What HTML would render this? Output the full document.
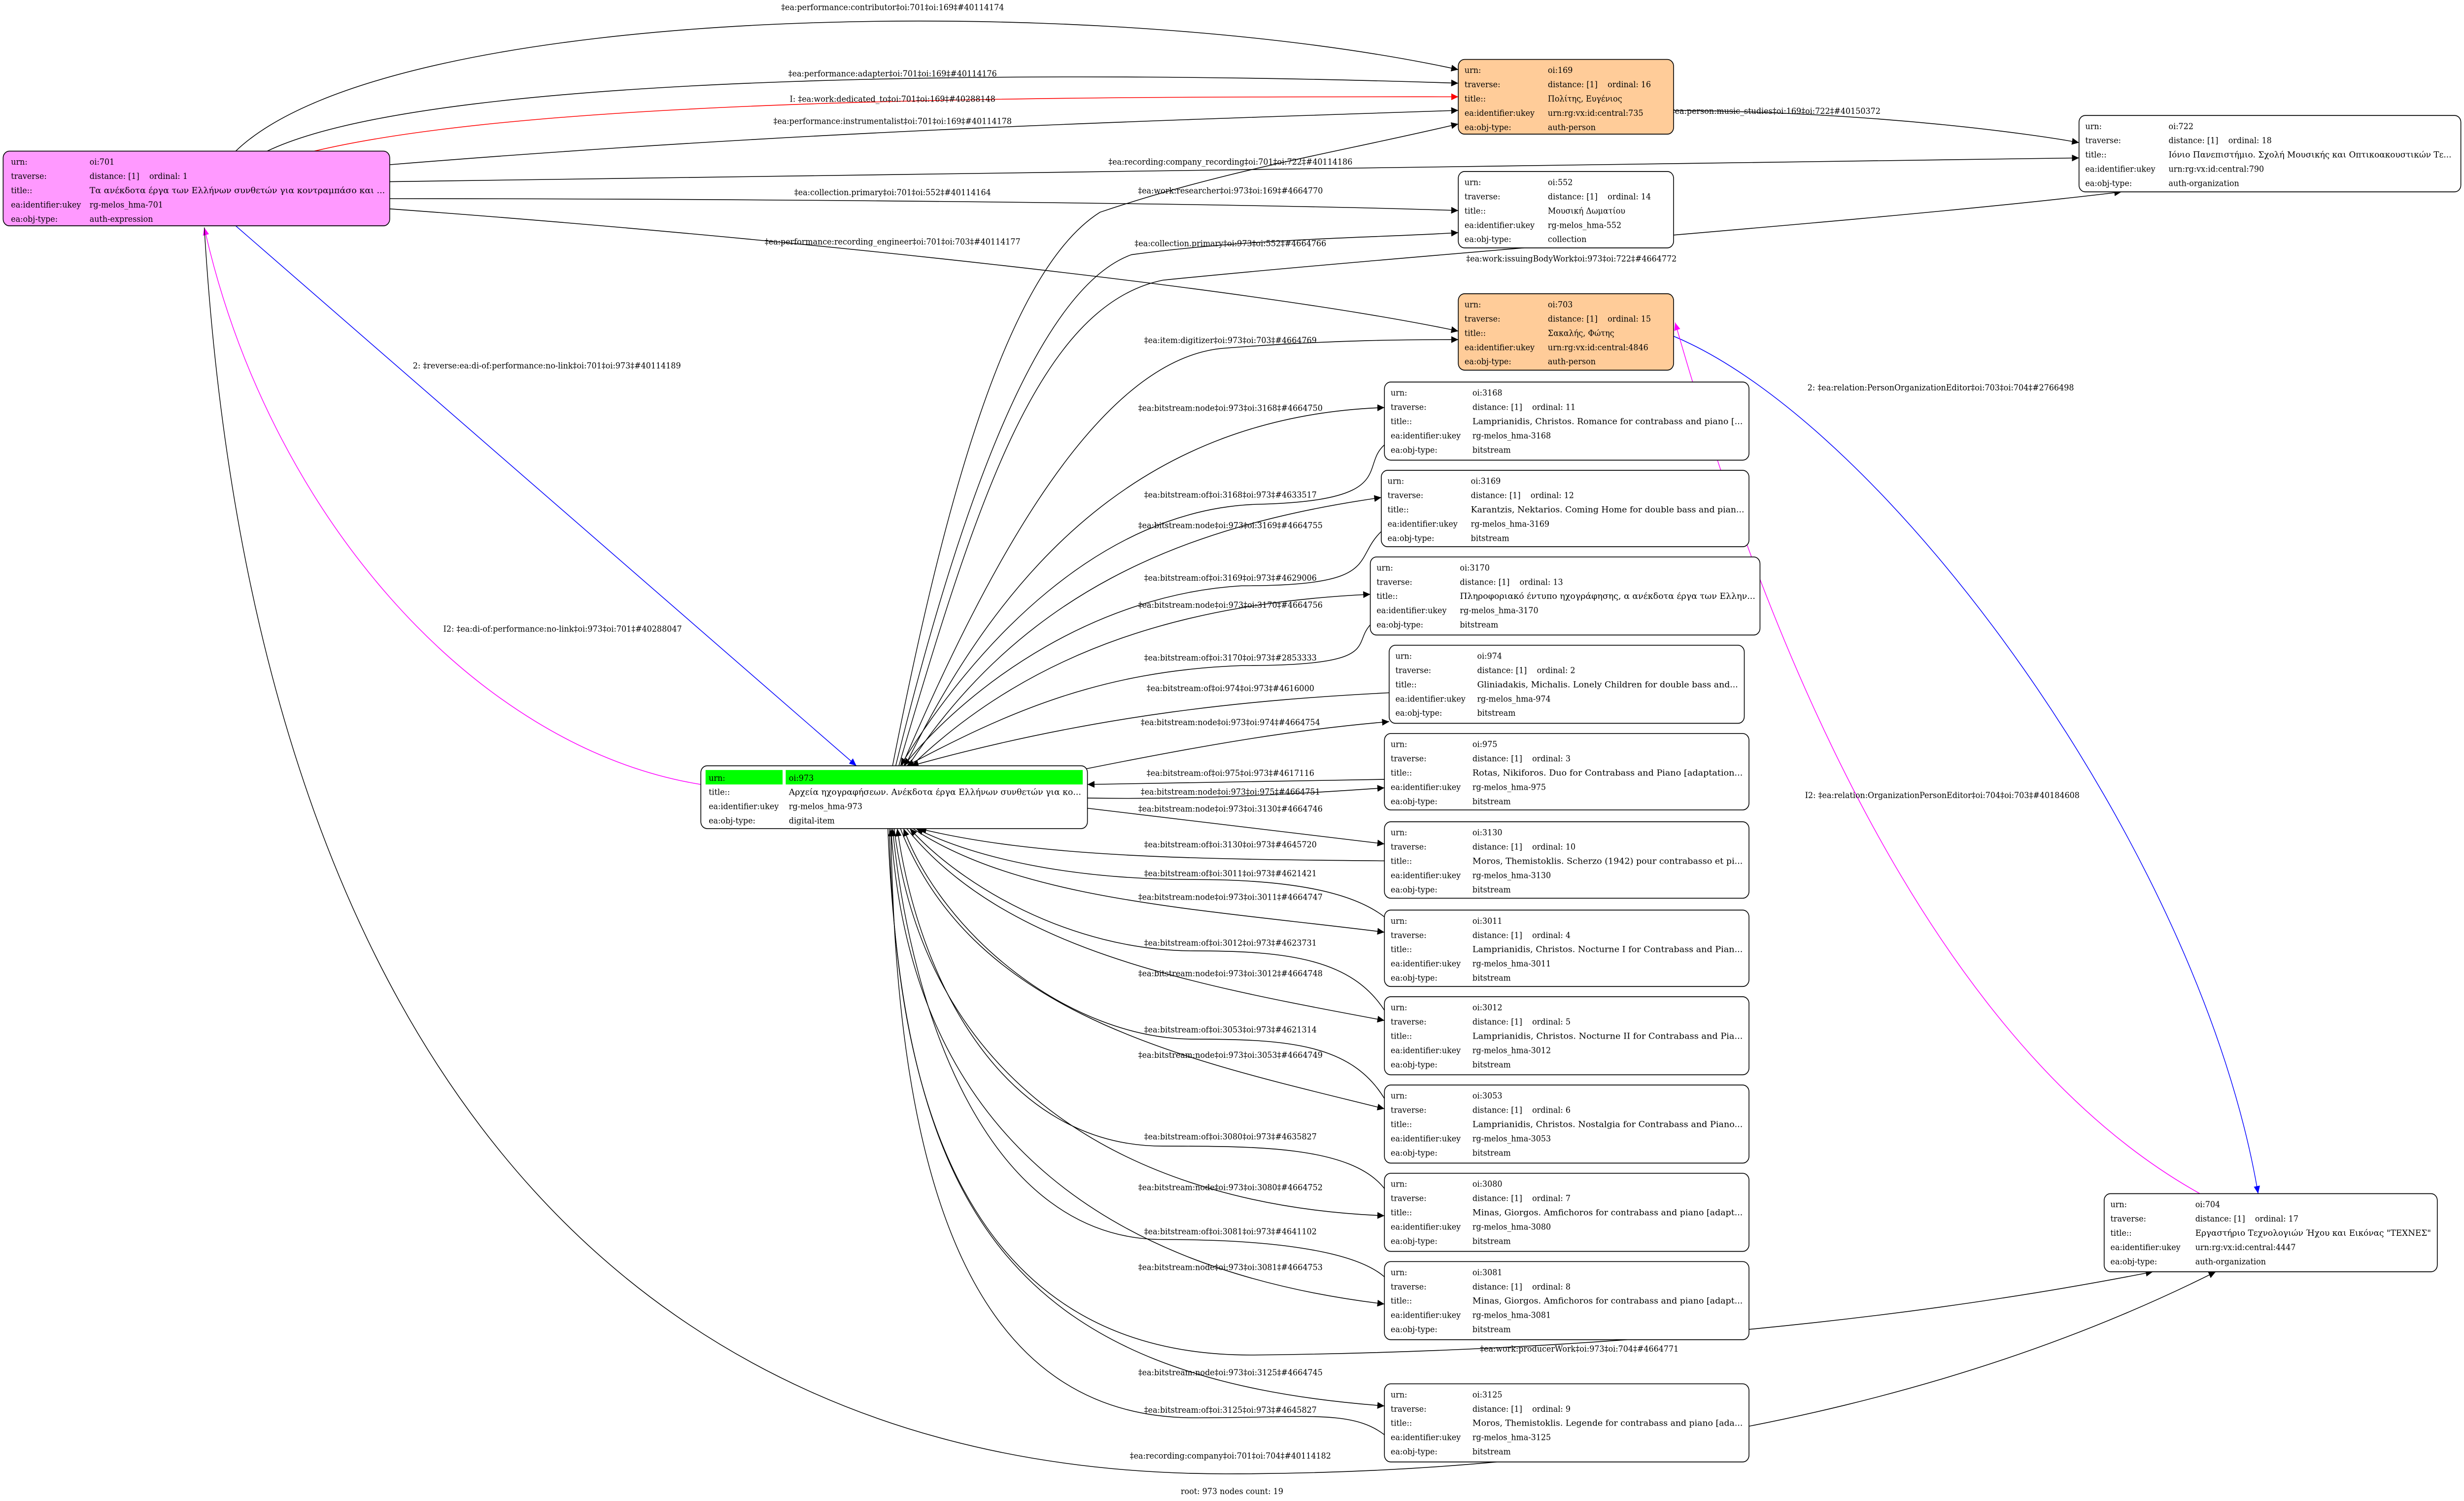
<!DOCTYPE html>
<html><head><meta charset="utf-8"><style>
html,body{margin:0;padding:0;background:#fff;overflow:hidden;width:100%;height:100%;}
svg{display:block;width:100vw;height:100vh;}
text{font-family:"DejaVu Serif","Liberation Serif","Noto Serif CJK SC",serif;font-size:5px;fill:#000;}
.e{fill:none;stroke:#000;stroke-width:0.45;}
</style></head><body>
<svg viewBox="0 0 1568 884" preserveAspectRatio="none" xmlns="http://www.w3.org/2000/svg">
<defs>
<marker id="ak" markerUnits="userSpaceOnUse" markerWidth="5" markerHeight="4" refX="4.5" refY="2" orient="auto"><path d="M0,0 L4.5,2 L0,4z" fill="#000"/></marker>
<marker id="ar" markerUnits="userSpaceOnUse" markerWidth="5" markerHeight="4" refX="4.5" refY="2" orient="auto"><path d="M0,0 L4.5,2 L0,4z" fill="#f00"/></marker>
<marker id="ab" markerUnits="userSpaceOnUse" markerWidth="5" markerHeight="4" refX="4.5" refY="2" orient="auto"><path d="M0,0 L4.5,2 L0,4z" fill="#00f"/></marker>
<marker id="am" markerUnits="userSpaceOnUse" markerWidth="5" markerHeight="4" refX="4.5" refY="2" orient="auto"><path d="M0,0 L4.5,2 L0,4z" fill="#f0f"/></marker>
</defs>

<path class="e" marker-end="url(#ak)" d="M150,89 C250,0 700,-5 928,41"/>
<path class="e" marker-end="url(#ak)" d="M170,89 C280,40 700,42 928,49"/>
<path class="e" style="stroke:#f00" marker-end="url(#ar)" d="M200,89 C350,56 700,57 928,57"/>
<path class="e" marker-end="url(#ak)" d="M248,97 C500,78 700,72 928,65"/>
<path class="e" marker-end="url(#ak)" d="M248,107 L1323,93"/>
<path class="e" marker-end="url(#ak)" d="M248,117 C500,117 800,120 928,124"/>
<path class="e" marker-end="url(#ak)" d="M248,123 C500,140 800,170 928,195"/>
<path class="e" style="stroke:#00f" marker-end="url(#ab)" d="M150,133 L545,451"/>
<path class="e" style="stroke:#f0f" marker-end="url(#am)" d="M446,462 C300,440 170,300 130,134"/>
<path class="e" marker-end="url(#ak)" d="M130,134 C160,600 380,868 780,868 C1100,868 1300,800 1410,749"/>
<path class="e" marker-end="url(#ak)" d="M1065,65 C1200,66 1300,80 1323,84"/>
<path class="e" style="stroke:#00f" marker-end="url(#ab)" d="M1065,198 C1200,250 1400,500 1437,703"/>
<path class="e" style="stroke:#f0f" marker-end="url(#am)" d="M1400,703 C1200,600 1100,300 1066,190"/>

<path class="e" marker-end="url(#ak)" d="M568,451 C600,300 640,160 700,125 C780,100 850,90 928,73"/>
<path class="e" marker-end="url(#ak)" d="M570,451 C610,300 660,170 720,150 C800,140 880,140 928,137"/>
<path class="e" marker-end="url(#ak)" d="M572,451 C620,300 660,180 740,165 C900,150 1200,130 1350,113"/>
<path class="e" marker-end="url(#ak)" d="M574,451 C630,330 700,210 780,205 C850,200 900,200 928,200"/>
<path class="e" marker-end="url(#ak)" d="M576,451 C640,330 730,245 881,240"/>
<path class="e" marker-end="url(#ak)" d="M881,262 C865,275 890,295 800,297 C700,300 620,380 573,451"/>
<path class="e" marker-end="url(#ak)" d="M578,451 C650,350 750,310 879,293"/>
<path class="e" marker-end="url(#ak)" d="M879,313 C860,330 880,345 790,345 C700,350 620,400 575,451"/>
<path class="e" marker-end="url(#ak)" d="M580,451 C660,380 760,355 872,350"/>
<path class="e" marker-end="url(#ak)" d="M872,368 C860,380 880,392 790,392 C700,395 640,420 577,451"/>
<path class="e" marker-end="url(#ak)" d="M884,408 C800,412 700,420 580,451"/>
<path class="e" marker-end="url(#ak)" d="M690,453 C760,440 820,430 884,425"/>
<path class="e" marker-end="url(#ak)" d="M881,459 L692,462"/>
<path class="e" marker-end="url(#ak)" d="M692,470 C760,471 820,468 881,464"/>
<path class="e" marker-end="url(#ak)" d="M692,476 L881,497"/>
<path class="e" marker-end="url(#ak)" d="M881,507 C760,506 660,505 585,488"/>
<path class="e" marker-end="url(#ak)" d="M881,540 C860,525 820,518 760,518 C680,518 620,505 583,488"/>
<path class="e" marker-end="url(#ak)" d="M581,488 C650,530 760,535 881,549"/>
<path class="e" marker-end="url(#ak)" d="M881,595 C860,565 820,560 760,560 C680,560 610,520 579,488"/>
<path class="e" marker-end="url(#ak)" d="M577,488 C640,560 760,580 881,601"/>
<path class="e" marker-end="url(#ak)" d="M881,647 C860,615 820,612 760,612 C680,612 600,550 575,488"/>
<path class="e" marker-end="url(#ak)" d="M573,488 C620,600 760,625 881,653"/>
<path class="e" marker-end="url(#ak)" d="M881,700 C860,675 800,675 740,675 C640,675 585,580 571,488"/>
<path class="e" marker-end="url(#ak)" d="M569,488 C590,640 720,710 881,716"/>
<path class="e" marker-end="url(#ak)" d="M881,752 C860,735 800,730 740,730 C630,730 580,600 568,488"/>
<path class="e" marker-end="url(#ak)" d="M567,488 C580,680 720,750 881,768"/>
<path class="e" marker-end="url(#ak)" d="M566,488 C570,700 650,800 800,798 C1000,796 1200,780 1370,749"/>
<path class="e" marker-end="url(#ak)" d="M565,488 C575,720 650,812 881,828"/>
<path class="e" marker-end="url(#ak)" d="M881,845 C860,830 830,835 760,835 C620,835 570,700 567,488"/>

<g text-anchor="middle">
<text x="568" y="6">‡ea:performance:contributor‡oi:701‡oi:169‡#40114174</text>
<text x="568" y="45">‡ea:performance:adapter‡oi:701‡oi:169‡#40114176</text>
<text x="568" y="60">I: ‡ea:work:dedicated_to‡oi:701‡oi:169‡#40288148</text>
<text x="568" y="73">‡ea:performance:instrumentalist‡oi:701‡oi:169‡#40114178</text>
<text x="783" y="97">‡ea:recording:company_recording‡oi:701‡oi:722‡#40114186</text>
<text x="568" y="115">‡ea:collection.primary‡oi:701‡oi:552‡#40114164</text>
<text x="568" y="144">‡ea:performance:recording_engineer‡oi:701‡oi:703‡#40114177</text>
<text x="1130" y="67">‡ea:person:music_studies‡oi:169‡oi:722‡#40150372</text>
<text x="348" y="217">2: ‡reverse:ea:di-of:performance:no-link‡oi:701‡oi:973‡#40114189</text>
<text x="358" y="372">I2: ‡ea:di-of:performance:no-link‡oi:973‡oi:701‡#40288047</text>
<text x="1235" y="230">2: ‡ea:relation:PersonOrganizationEditor‡oi:703‡oi:704‡#2766498</text>
<text x="1236" y="470">I2: ‡ea:relation:OrganizationPersonEditor‡oi:704‡oi:703‡#40184608</text>
<text x="783" y="114">‡ea:work:researcher‡oi:973‡oi:169‡#4664770</text>
<text x="783" y="145">‡ea:collection.primary‡oi:973‡oi:552‡#4664766</text>
<text x="1000" y="154">‡ea:work:issuingBodyWork‡oi:973‡oi:722‡#4664772</text>
<text x="783" y="202">‡ea:item:digitizer‡oi:973‡oi:703‡#4664769</text>
<text x="783" y="242">‡ea:bitstream:node‡oi:973‡oi:3168‡#4664750</text>
<text x="783" y="293">‡ea:bitstream:of‡oi:3168‡oi:973‡#4633517</text>
<text x="783" y="311">‡ea:bitstream:node‡oi:973‡oi:3169‡#4664755</text>
<text x="783" y="342">‡ea:bitstream:of‡oi:3169‡oi:973‡#4629006</text>
<text x="783" y="358">‡ea:bitstream:node‡oi:973‡oi:3170‡#4664756</text>
<text x="783" y="389">‡ea:bitstream:of‡oi:3170‡oi:973‡#2853333</text>
<text x="783" y="407">‡ea:bitstream:of‡oi:974‡oi:973‡#4616000</text>
<text x="783" y="427">‡ea:bitstream:node‡oi:973‡oi:974‡#4664754</text>
<text x="783" y="457">‡ea:bitstream:of‡oi:975‡oi:973‡#4617116</text>
<text x="783" y="468">‡ea:bitstream:node‡oi:973‡oi:975‡#4664751</text>
<text x="783" y="478">‡ea:bitstream:node‡oi:973‡oi:3130‡#4664746</text>
<text x="783" y="499">‡ea:bitstream:of‡oi:3130‡oi:973‡#4645720</text>
<text x="783" y="516">‡ea:bitstream:of‡oi:3011‡oi:973‡#4621421</text>
<text x="783" y="530">‡ea:bitstream:node‡oi:973‡oi:3011‡#4664747</text>
<text x="783" y="557">‡ea:bitstream:of‡oi:3012‡oi:973‡#4623731</text>
<text x="783" y="575">‡ea:bitstream:node‡oi:973‡oi:3012‡#4664748</text>
<text x="783" y="608">‡ea:bitstream:of‡oi:3053‡oi:973‡#4621314</text>
<text x="783" y="623">‡ea:bitstream:node‡oi:973‡oi:3053‡#4664749</text>
<text x="783" y="671">‡ea:bitstream:of‡oi:3080‡oi:973‡#4635827</text>
<text x="783" y="701">‡ea:bitstream:node‡oi:973‡oi:3080‡#4664752</text>
<text x="783" y="727">‡ea:bitstream:of‡oi:3081‡oi:973‡#4641102</text>
<text x="783" y="748">‡ea:bitstream:node‡oi:973‡oi:3081‡#4664753</text>
<text x="1005" y="796">‡ea:work:producerWork‡oi:973‡oi:704‡#4664771</text>
<text x="783" y="810">‡ea:bitstream:node‡oi:973‡oi:3125‡#4664745</text>
<text x="783" y="832">‡ea:bitstream:of‡oi:3125‡oi:973‡#4645827</text>
<text x="783" y="859">‡ea:recording:company‡oi:701‡oi:704‡#40114182</text>
<text x="784" y="880">root: 973 nodes count: 19</text>
</g>

<g stroke="#000" stroke-width="0.5">
<rect x="2" y="89" width="246" height="44" rx="4" fill="#ff99ff"/>
<rect x="446" y="451" width="246" height="37" rx="4" fill="#fff"/>
<rect x="928" y="35" width="137" height="44" rx="4" fill="#ffcc99"/>
<rect x="1323" y="68" width="243" height="45" rx="4" fill="#fff"/>
<rect x="928" y="101" width="137" height="45" rx="4" fill="#fff"/>
<rect x="928" y="173" width="137" height="45" rx="4" fill="#ffcc99"/>
<rect x="881" y="225" width="232" height="46" rx="4" fill="#fff"/>
<rect x="879" y="277" width="234" height="45" rx="4" fill="#fff"/>
<rect x="872" y="328" width="248" height="46" rx="4" fill="#fff"/>
<rect x="884" y="380" width="226" height="46" rx="4" fill="#fff"/>
<rect x="881" y="432" width="232" height="45" rx="4" fill="#fff"/>
<rect x="881" y="484" width="232" height="45" rx="4" fill="#fff"/>
<rect x="881" y="536" width="232" height="45" rx="4" fill="#fff"/>
<rect x="881" y="587" width="232" height="46" rx="4" fill="#fff"/>
<rect x="881" y="639" width="232" height="46" rx="4" fill="#fff"/>
<rect x="881" y="691" width="232" height="46" rx="4" fill="#fff"/>
<rect x="881" y="743" width="232" height="46" rx="4" fill="#fff"/>
<rect x="881" y="815" width="232" height="46" rx="4" fill="#fff"/>
<rect x="1339" y="703" width="212" height="46" rx="4" fill="#fff"/>
</g>
<rect x="449" y="453.5" width="49" height="8.5" fill="#00ff00"/>
<rect x="500" y="453.5" width="189" height="8.5" fill="#00ff00"/>

<text x="7" y="97">urn:</text><text x="57" y="97">oi:701</text>
<text x="7" y="105.4">traverse:</text><text x="57" y="105.4">distance: [1]&#160;&#160;&#160;&#160;ordinal: 1</text>
<text x="7" y="113.8">title::</text><text x="57" y="113.8" textLength="188" lengthAdjust="spacingAndGlyphs">Τα ανέκδοτα έργα των Ελλήνων συνθετών για κοντραμπάσο και ...</text>
<text x="7" y="122.2">ea:identifier:ukey</text><text x="57" y="122.2">rg-melos_hma-701</text>
<text x="7" y="130.6">ea:obj-type:</text><text x="57" y="130.6">auth-expression</text>

<text x="451" y="459.8">urn:</text><text x="502" y="459.8">oi:973</text>
<text x="451" y="468.2">title::</text><text x="502" y="468.2" textLength="186" lengthAdjust="spacingAndGlyphs">Αρχεία ηχογραφήσεων. Ανέκδοτα έργα Ελλήνων συνθετών για κο...</text>
<text x="451" y="476.6">ea:identifier:ukey</text><text x="502" y="476.6">rg-melos_hma-973</text>
<text x="451" y="485">ea:obj-type:</text><text x="502" y="485">digital-item</text>

<text x="932" y="43">urn:</text><text x="985" y="43">oi:169</text>
<text x="932" y="51.4">traverse:</text><text x="985" y="51.4">distance: [1]&#160;&#160;&#160;&#160;ordinal: 16</text>
<text x="932" y="59.8">title::</text><text x="985" y="59.8">Πολίτης, Ευγένιος</text>
<text x="932" y="68.2">ea:identifier:ukey</text><text x="985" y="68.2">urn:rg:vx:id:central:735</text>
<text x="932" y="76.6">ea:obj-type:</text><text x="985" y="76.6">auth-person</text>

<text x="1327" y="76">urn:</text><text x="1380" y="76">oi:722</text>
<text x="1327" y="84.4">traverse:</text><text x="1380" y="84.4">distance: [1]&#160;&#160;&#160;&#160;ordinal: 18</text>
<text x="1327" y="92.8">title::</text><text x="1380" y="92.8" textLength="180" lengthAdjust="spacingAndGlyphs">Ιόνιο Πανεπιστήμιο. Σχολή Μουσικής και Οπτικοακουστικών Τε...</text>
<text x="1327" y="101.2">ea:identifier:ukey</text><text x="1380" y="101.2">urn:rg:vx:id:central:790</text>
<text x="1327" y="109.6">ea:obj-type:</text><text x="1380" y="109.6">auth-organization</text>

<text x="932" y="109">urn:</text><text x="985" y="109">oi:552</text>
<text x="932" y="117.4">traverse:</text><text x="985" y="117.4">distance: [1]&#160;&#160;&#160;&#160;ordinal: 14</text>
<text x="932" y="125.8">title::</text><text x="985" y="125.8">Μουσική Δωματίου</text>
<text x="932" y="134.2">ea:identifier:ukey</text><text x="985" y="134.2">rg-melos_hma-552</text>
<text x="932" y="142.6">ea:obj-type:</text><text x="985" y="142.6">collection</text>

<text x="932" y="181">urn:</text><text x="985" y="181">oi:703</text>
<text x="932" y="189.4">traverse:</text><text x="985" y="189.4">distance: [1]&#160;&#160;&#160;&#160;ordinal: 15</text>
<text x="932" y="197.8">title::</text><text x="985" y="197.8">Σακαλής, Φώτης</text>
<text x="932" y="206.2">ea:identifier:ukey</text><text x="985" y="206.2">urn:rg:vx:id:central:4846</text>
<text x="932" y="214.6">ea:obj-type:</text><text x="985" y="214.6">auth-person</text>

<g>
<text x="885" y="233">urn:</text><text x="937" y="233">oi:3168</text>
<text x="885" y="241.4">traverse:</text><text x="937" y="241.4">distance: [1]&#160;&#160;&#160;&#160;ordinal: 11</text>
<text x="885" y="249.8">title::</text><text x="937" y="249.8" textLength="172" lengthAdjust="spacingAndGlyphs">Lamprianidis, Christos. Romance for contrabass and piano [...</text>
<text x="885" y="258.2">ea:identifier:ukey</text><text x="937" y="258.2">rg-melos_hma-3168</text>
<text x="885" y="266.6">ea:obj-type:</text><text x="937" y="266.6">bitstream</text>
</g>
<g>
<text x="883" y="285">urn:</text><text x="936" y="285">oi:3169</text>
<text x="883" y="293.4">traverse:</text><text x="936" y="293.4">distance: [1]&#160;&#160;&#160;&#160;ordinal: 12</text>
<text x="883" y="301.8">title::</text><text x="936" y="301.8" textLength="174" lengthAdjust="spacingAndGlyphs">Karantzis, Nektarios. Coming Home for double bass and pian...</text>
<text x="883" y="310.2">ea:identifier:ukey</text><text x="936" y="310.2">rg-melos_hma-3169</text>
<text x="883" y="318.6">ea:obj-type:</text><text x="936" y="318.6">bitstream</text>
</g>
<g>
<text x="876" y="336">urn:</text><text x="929" y="336">oi:3170</text>
<text x="876" y="344.4">traverse:</text><text x="929" y="344.4">distance: [1]&#160;&#160;&#160;&#160;ordinal: 13</text>
<text x="876" y="352.8">title::</text><text x="929" y="352.8" textLength="188" lengthAdjust="spacingAndGlyphs">Πληροφοριακό έντυπο ηχογράφησης, α ανέκδοτα έργα των Ελλην...</text>
<text x="876" y="361.2">ea:identifier:ukey</text><text x="929" y="361.2">rg-melos_hma-3170</text>
<text x="876" y="369.6">ea:obj-type:</text><text x="929" y="369.6">bitstream</text>
</g>
<g>
<text x="888" y="388">urn:</text><text x="940" y="388">oi:974</text>
<text x="888" y="396.4">traverse:</text><text x="940" y="396.4">distance: [1]&#160;&#160;&#160;&#160;ordinal: 2</text>
<text x="888" y="404.8">title::</text><text x="940" y="404.8" textLength="166" lengthAdjust="spacingAndGlyphs">Gliniadakis, Michalis. Lonely Children for double bass and...</text>
<text x="888" y="413.2">ea:identifier:ukey</text><text x="940" y="413.2">rg-melos_hma-974</text>
<text x="888" y="421.6">ea:obj-type:</text><text x="940" y="421.6">bitstream</text>
</g>
<g>
<text x="885" y="440">urn:</text><text x="937" y="440">oi:975</text>
<text x="885" y="448.4">traverse:</text><text x="937" y="448.4">distance: [1]&#160;&#160;&#160;&#160;ordinal: 3</text>
<text x="885" y="456.8">title::</text><text x="937" y="456.8" textLength="172" lengthAdjust="spacingAndGlyphs">Rotas, Nikiforos. Duo for Contrabass and Piano [adaptation...</text>
<text x="885" y="465.2">ea:identifier:ukey</text><text x="937" y="465.2">rg-melos_hma-975</text>
<text x="885" y="473.6">ea:obj-type:</text><text x="937" y="473.6">bitstream</text>
</g>
<g>
<text x="885" y="492">urn:</text><text x="937" y="492">oi:3130</text>
<text x="885" y="500.4">traverse:</text><text x="937" y="500.4">distance: [1]&#160;&#160;&#160;&#160;ordinal: 10</text>
<text x="885" y="508.8">title::</text><text x="937" y="508.8" textLength="172" lengthAdjust="spacingAndGlyphs">Moros, Themistoklis. Scherzo (1942) pour contrabasso et pi...</text>
<text x="885" y="517.2">ea:identifier:ukey</text><text x="937" y="517.2">rg-melos_hma-3130</text>
<text x="885" y="525.6">ea:obj-type:</text><text x="937" y="525.6">bitstream</text>
</g>
<g>
<text x="885" y="544">urn:</text><text x="937" y="544">oi:3011</text>
<text x="885" y="552.4">traverse:</text><text x="937" y="552.4">distance: [1]&#160;&#160;&#160;&#160;ordinal: 4</text>
<text x="885" y="560.8">title::</text><text x="937" y="560.8" textLength="172" lengthAdjust="spacingAndGlyphs">Lamprianidis, Christos. Nocturne I for Contrabass and Pian...</text>
<text x="885" y="569.2">ea:identifier:ukey</text><text x="937" y="569.2">rg-melos_hma-3011</text>
<text x="885" y="577.6">ea:obj-type:</text><text x="937" y="577.6">bitstream</text>
</g>
<g>
<text x="885" y="595">urn:</text><text x="937" y="595">oi:3012</text>
<text x="885" y="603.4">traverse:</text><text x="937" y="603.4">distance: [1]&#160;&#160;&#160;&#160;ordinal: 5</text>
<text x="885" y="611.8">title::</text><text x="937" y="611.8" textLength="172" lengthAdjust="spacingAndGlyphs">Lamprianidis, Christos. Nocturne II for Contrabass and Pia...</text>
<text x="885" y="620.2">ea:identifier:ukey</text><text x="937" y="620.2">rg-melos_hma-3012</text>
<text x="885" y="628.6">ea:obj-type:</text><text x="937" y="628.6">bitstream</text>
</g>
<g>
<text x="885" y="647">urn:</text><text x="937" y="647">oi:3053</text>
<text x="885" y="655.4">traverse:</text><text x="937" y="655.4">distance: [1]&#160;&#160;&#160;&#160;ordinal: 6</text>
<text x="885" y="663.8">title::</text><text x="937" y="663.8" textLength="172" lengthAdjust="spacingAndGlyphs">Lamprianidis, Christos. Nostalgia for Contrabass and Piano...</text>
<text x="885" y="672.2">ea:identifier:ukey</text><text x="937" y="672.2">rg-melos_hma-3053</text>
<text x="885" y="680.6">ea:obj-type:</text><text x="937" y="680.6">bitstream</text>
</g>
<g>
<text x="885" y="699">urn:</text><text x="937" y="699">oi:3080</text>
<text x="885" y="707.4">traverse:</text><text x="937" y="707.4">distance: [1]&#160;&#160;&#160;&#160;ordinal: 7</text>
<text x="885" y="715.8">title::</text><text x="937" y="715.8" textLength="172" lengthAdjust="spacingAndGlyphs">Minas, Giorgos. Amfichoros for contrabass and piano [adapt...</text>
<text x="885" y="724.2">ea:identifier:ukey</text><text x="937" y="724.2">rg-melos_hma-3080</text>
<text x="885" y="732.6">ea:obj-type:</text><text x="937" y="732.6">bitstream</text>
</g>
<g>
<text x="885" y="751">urn:</text><text x="937" y="751">oi:3081</text>
<text x="885" y="759.4">traverse:</text><text x="937" y="759.4">distance: [1]&#160;&#160;&#160;&#160;ordinal: 8</text>
<text x="885" y="767.8">title::</text><text x="937" y="767.8" textLength="172" lengthAdjust="spacingAndGlyphs">Minas, Giorgos. Amfichoros for contrabass and piano [adapt...</text>
<text x="885" y="776.2">ea:identifier:ukey</text><text x="937" y="776.2">rg-melos_hma-3081</text>
<text x="885" y="784.6">ea:obj-type:</text><text x="937" y="784.6">bitstream</text>
</g>
<g>
<text x="885" y="823">urn:</text><text x="937" y="823">oi:3125</text>
<text x="885" y="831.4">traverse:</text><text x="937" y="831.4">distance: [1]&#160;&#160;&#160;&#160;ordinal: 9</text>
<text x="885" y="839.8">title::</text><text x="937" y="839.8" textLength="172" lengthAdjust="spacingAndGlyphs">Moros, Themistoklis. Legende for contrabass and piano [ada...</text>
<text x="885" y="848.2">ea:identifier:ukey</text><text x="937" y="848.2">rg-melos_hma-3125</text>
<text x="885" y="856.6">ea:obj-type:</text><text x="937" y="856.6">bitstream</text>
</g>

<text x="1343" y="711">urn:</text><text x="1397" y="711">oi:704</text>
<text x="1343" y="719.4">traverse:</text><text x="1397" y="719.4">distance: [1]&#160;&#160;&#160;&#160;ordinal: 17</text>
<text x="1343" y="727.8">title::</text><text x="1397" y="727.8" textLength="150" lengthAdjust="spacingAndGlyphs">Εργαστήριο Τεχνολογιών Ήχου και Εικόνας "TEXNEΣ"</text>
<text x="1343" y="736.2">ea:identifier:ukey</text><text x="1397" y="736.2">urn:rg:vx:id:central:4447</text>
<text x="1343" y="744.6">ea:obj-type:</text><text x="1397" y="744.6">auth-organization</text>
</svg>
</body></html>
